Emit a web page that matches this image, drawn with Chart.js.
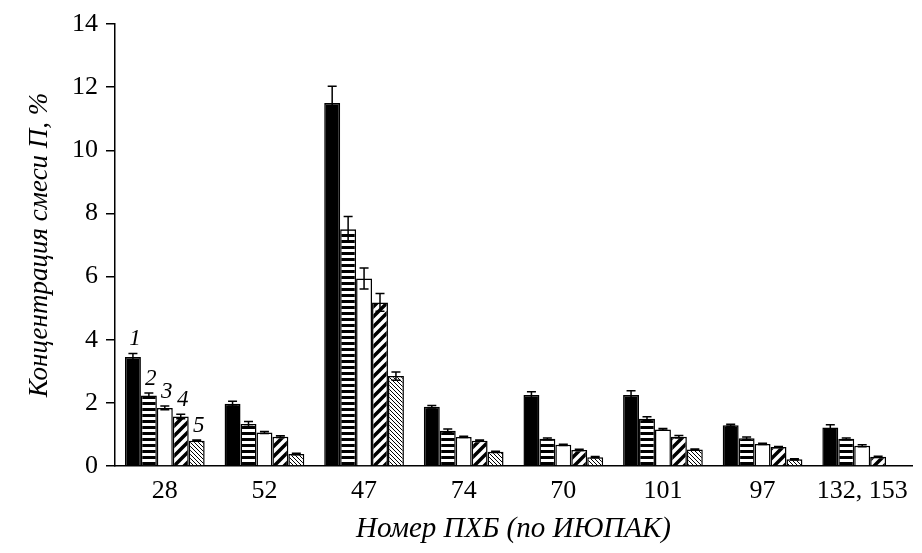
<!DOCTYPE html>
<html>
<head>
<meta charset="utf-8">
<script src="https://cdn.jsdelivr.net/npm/chart.js@4"></script>
<style>
  html, body { margin: 0; padding: 0; background: #fff; }
  #wrap { width: 922px; height: 553px; }
</style>
</head>
<body>
<div id="wrap"><canvas id="chart" width="922" height="553"></canvas></div>
<script>
const categories = ['28', '52', '47', '74', '70', '101', '97', '132, 153'];
const seriesNames = ['1', '2', '3', '4', '5'];

const series1 = [3.45, 1.97, 11.5, 1.88, 2.25, 2.25, 1.29, 1.22];
const series2 = [2.23, 1.33, 7.5, 1.12, 0.86, 1.5, 0.88, 0.86];
const series3 = [1.84, 1.06, 5.94, 0.92, 0.67, 1.16, 0.7, 0.64];
const series4 = [1.57, 0.93, 5.18, 0.8, 0.51, 0.93, 0.6, 0.29];
const series5 = [0.8, 0.38, 2.85, 0.45, 0.28, 0.52, 0.21, null];

const errors1 = [0.11, 0.08, 0.53, 0.04, 0.1, 0.13, 0.03, 0.09];
const errors2 = [0.08, 0.08, 0.4, 0.05, 0.03, 0.06, 0.04, 0.03];
const errors3 = [0.06, 0.03, 0.33, 0.02, 0.02, 0.03, 0.02, 0.03];
const errors4 = [0.07, 0.03, 0.28, 0.02, 0.02, 0.04, 0.02, 0.02];
const errors5 = [0.02, 0.02, 0.13, 0.02, 0.02, 0.02, 0.02, null];

const yTicks = [0, 2, 4, 6, 8, 10, 12, 14];

const allSeries = [series1, series2, series3, series4, series5];
const allErrors = [errors1, errors2, errors3, errors4, errors5];

const serif = '"Liberation Serif", "DejaVu Serif", serif';

function makePattern(size, draw) {
  const c = document.createElement('canvas');
  c.width = size;
  c.height = size;
  const g = c.getContext('2d');
  g.fillStyle = '#fff';
  g.fillRect(0, 0, size, size);
  g.fillStyle = '#000';
  g.strokeStyle = '#000';
  draw(g, size);
  return document.getElementById('chart').getContext('2d').createPattern(c, 'repeat');
}

// horizontal stripes
const hStripes = makePattern(6, (g, s) => {
  g.fillRect(0, 0, s, 3);
});

// thick "/" stripes
const thickDiag = makePattern(10, (g, s) => {
  g.lineWidth = 3.5;
  g.beginPath();
  g.moveTo(-s, 2 * s); g.lineTo(2 * s, -s);
  g.moveTo(-s, s); g.lineTo(s, -s);
  g.moveTo(0, 2 * s); g.lineTo(2 * s, 0);
  g.stroke();
});

// thin "\" stripes
const thinDiag = makePattern(4, (g, s) => {
  g.lineWidth = 1;
  g.beginPath();
  g.moveTo(-s, -s); g.lineTo(2 * s, 2 * s);
  g.moveTo(-s, 0); g.lineTo(s, 2 * s);
  g.moveTo(0, -s); g.lineTo(2 * s, s);
  g.stroke();
});

const fills = ['#000', hStripes, '#fff', thickDiag, thinDiag];

const errorBars = {
  id: 'errorBars',
  afterDatasetsDraw(chart) {
    const ctx = chart.ctx;
    const y = chart.scales.y;
    ctx.save();
    ctx.strokeStyle = '#000';
    ctx.lineWidth = 1.5;
    chart.data.datasets.forEach((ds, i) => {
      const meta = chart.getDatasetMeta(i);
      meta.data.forEach((bar, j) => {
        const v = ds.data[j];
        const e = allErrors[i][j];
        if (v == null || e == null) return;
        const top = y.getPixelForValue(v + e);
        const bot = y.getPixelForValue(v - e);
        const x = bar.x;
        ctx.beginPath();
        ctx.moveTo(x, top); ctx.lineTo(x, bot);
        ctx.moveTo(x - 4.5, top); ctx.lineTo(x + 4.5, top);
        ctx.moveTo(x - 4.5, bot); ctx.lineTo(x + 4.5, bot);
        ctx.stroke();
      });
    });
    ctx.restore();
  }
};

// series numbers above the first group
const seriesNumbers = {
  id: 'seriesNumbers',
  afterDatasetsDraw(chart) {
    const ctx = chart.ctx;
    const y = chart.scales.y;
    ctx.save();
    ctx.fillStyle = '#000';
    ctx.font = 'italic 23px ' + serif;
    ctx.textAlign = 'center';
    ctx.textBaseline = 'bottom';
    chart.data.datasets.forEach((ds, i) => {
      const bar = chart.getDatasetMeta(i).data[0];
      const top = y.getPixelForValue(ds.data[0] + allErrors[i][0]);
      ctx.fillText(seriesNames[i], bar.x + 2, top - 3);
    });
    ctx.restore();
  }
};

new Chart(document.getElementById('chart'), {
  type: 'bar',
  data: {
    labels: categories,
    datasets: allSeries.map((data, i) => ({
      label: seriesNames[i],
      data: data,
      backgroundColor: fills[i],
      borderColor: '#000',
      borderWidth: 1.5,
      borderSkipped: 'bottom',
      categoryPercentage: 0.8,
      barPercentage: 1.0
    }))
  },
  options: {
    responsive: false,
    animation: false,
    devicePixelRatio: 1,
    layout: { padding: { top: 24, right: 10, bottom: 0, left: 0 } },
    plugins: {
      legend: { display: false },
      tooltip: { enabled: false }
    },
    scales: {
      x: {
        grid: { drawOnChartArea: false, drawTicks: false },
        border: { color: '#000', width: 1.5 },
        ticks: {
          color: '#000',
          font: { family: serif, size: 26 },
          padding: 10,
          maxRotation: 0,
          autoSkip: false
        },
        title: {
          display: true,
          text: 'Номер ПХБ (по ИЮПАК)',
          color: '#000',
          font: { family: serif, size: 29, style: 'italic' },
          padding: { top: 0, bottom: 6 }
        },
        afterFit(s) { s.height = 87; }
      },
      y: {
        min: 0,
        max: 14,
        afterBuildTicks(s) { s.ticks = yTicks.map(v => ({ value: v })); },
        grid: { drawOnChartArea: false, drawTicks: true, tickLength: 9, color: '#000', lineWidth: 1.5 },
        border: { color: '#000', width: 1.5 },
        ticks: {
          color: '#000',
          font: { family: serif, size: 26 },
          padding: 8
        },
        title: {
          display: true,
          text: 'Концентрация смеси П, %',
          color: '#000',
          font: { family: serif, size: 27, style: 'italic' },
          padding: { top: 24, bottom: 0 }
        },
        afterFit(s) { s.width = 115; }
      }
    }
  },
  plugins: [errorBars, seriesNumbers]
});
</script>
</body>
</html>
